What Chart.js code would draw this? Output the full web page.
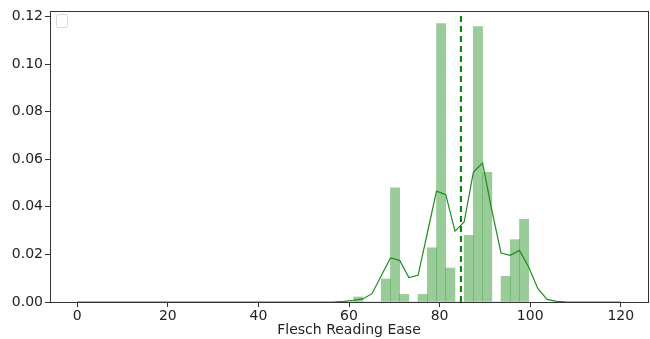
<!DOCTYPE html>
<html>
<head>
<meta charset="utf-8">
<script src="https://cdn.jsdelivr.net/npm/chart.js@4/dist/chart.umd.min.js"></script>
<style>
  html, body { margin: 0; padding: 0; background: #fff; }
  #wrap { width: 650px; height: 339px; }
</style>
</head>
<body>
<div id="wrap"><canvas id="chart"></canvas></div>
<script>
// Histogram bin centres (bin width ~2.03) and density heights
const binCenters = [ 62.03, 64.07, 66.10, 68.14, 70.17, 72.20, 74.24, 76.27, 78.31, 80.34,
  82.37, 84.41, 86.44, 88.47, 90.51, 92.54, 94.58, 96.61, 98.64 ];
const binDensity = [ 0.0021, 0, 0, 0.0097, 0.048, 0.0032, 0, 0.0032, 0.0228, 0.117,
  0.0143, 0, 0.028, 0.1158, 0.0545, 0, 0.0108, 0.0262, 0.0348 ];

// KDE curve samples
const kdeX = [ 0, 56.95, 58.98, 61.02, 63.05, 65.08, 67.12, 69.15, 71.19, 73.22, 75.25,
  77.29, 79.32, 81.36, 83.39, 85.42, 87.46, 89.49, 91.53, 93.56, 95.59, 97.63, 99.66,
  101.69, 103.73, 105.76, 107.80, 120 ];
const kdeY = [ 0, 0.0001, 0.0003, 0.0007, 0.0013, 0.0035, 0.0110, 0.0185, 0.0175, 0.0103, 0.0112,
  0.0290, 0.0466, 0.0451, 0.0298, 0.0336, 0.0546, 0.0584, 0.0385, 0.0206, 0.0196, 0.0217, 0.0147,
  0.0056, 0.0011, 0.0003, 0.0001, 0 ];

// Mean marker
const meanValue = 84.7;

const xTicks = [ 0, 20, 40, 60, 80, 100, 120 ];
const yTicks = [ 0, 0.02, 0.04, 0.06, 0.08, 0.10, 0.12 ];
const xTitle = "Flesch Reading Ease";

const yMax = 0.1223;

// full box frame plus the empty matplotlib legend box
const framePlugin = {
  id: "frame",
  afterDraw( chart ) {
    let ctx = chart.ctx;
    let a = chart.chartArea;
    ctx.save();
    ctx.strokeStyle = "#333";
    ctx.lineWidth = 1;
    ctx.strokeRect( Math.round( a.left ) + 0.5, Math.round( a.top ) + 0.5,
      Math.round( a.right - a.left ), Math.round( a.bottom - a.top ) );
    ctx.strokeStyle = "#d6d6d6";
    ctx.beginPath();
    ctx.roundRect( a.left + 6.5, a.top + 3.5, 11, 13, 2 );
    ctx.stroke();
    ctx.restore();
  }
};

new Chart( document.getElementById( "chart" ), {
  type: "bar",
  data: {
    datasets: [
      {
        type: "line",
        data: [ { x: meanValue, y: 0 }, { x: meanValue, y: yMax } ],
        borderColor: "#008000",
        borderWidth: 2,
        borderDash: [ 6, 4 ],
        pointRadius: 0,
        order: 0
      },
      {
        type: "line",
        data: kdeX.map( ( x, i ) => ( { x: x, y: kdeY[ i ] } ) ),
        borderColor: "#1f8c1f",
        borderWidth: 1.2,
        pointRadius: 0,
        tension: 0,
        order: 1
      },
      {
        type: "bar",
        data: binCenters.map( ( x, i ) => ( { x: x, y: binDensity[ i ] } ) ),
        backgroundColor: "rgba(0,128,0,0.4)",
        borderWidth: 0,
        barPercentage: 1,
        categoryPercentage: 1,
        order: 2
      }
    ]
  },
  options: {
    responsive: true,
    maintainAspectRatio: false,
    animation: false,
    layout: { padding: { top: 11, right: 2, left: 0, bottom: 0 } },
    plugins: { legend: { display: false }, tooltip: { enabled: false } },
    scales: {
      x: {
        type: "linear",
        min: -6,
        max: 126,
        offset: false,
        afterBuildTicks: ( scale ) => { scale.ticks = xTicks.map( ( v ) => ( { value: v } ) ); },
        afterFit: ( scale ) => { scale.height = 37; },
        grid: { offset: false, drawOnChartArea: false, drawTicks: true, tickLength: 5, color: "#333" },
        border: { display: true, color: "#333" },
        ticks: { color: "#222", font: { family: "DejaVu Sans", size: 14 }, padding: 1, maxRotation: 0 },
        title: { display: true, text: xTitle, color: "#222", font: { family: "DejaVu Sans", size: 14 }, padding: 0 }
      },
      y: {
        min: 0,
        max: yMax,
        afterBuildTicks: ( scale ) => { scale.ticks = yTicks.map( ( v ) => ( { value: v } ) ); },
        afterFit: ( scale ) => { scale.width = 50; },
        grid: { drawOnChartArea: false, drawTicks: true, tickLength: 5, color: "#333" },
        border: { display: true, color: "#333" },
        ticks: {
          color: "#222",
          font: { family: "DejaVu Sans", size: 14 },
          padding: 2,
          callback: ( v ) => v.toFixed( 2 )
        }
      }
    }
  },
  plugins: [ framePlugin ]
} );
</script>
</body>
</html>
